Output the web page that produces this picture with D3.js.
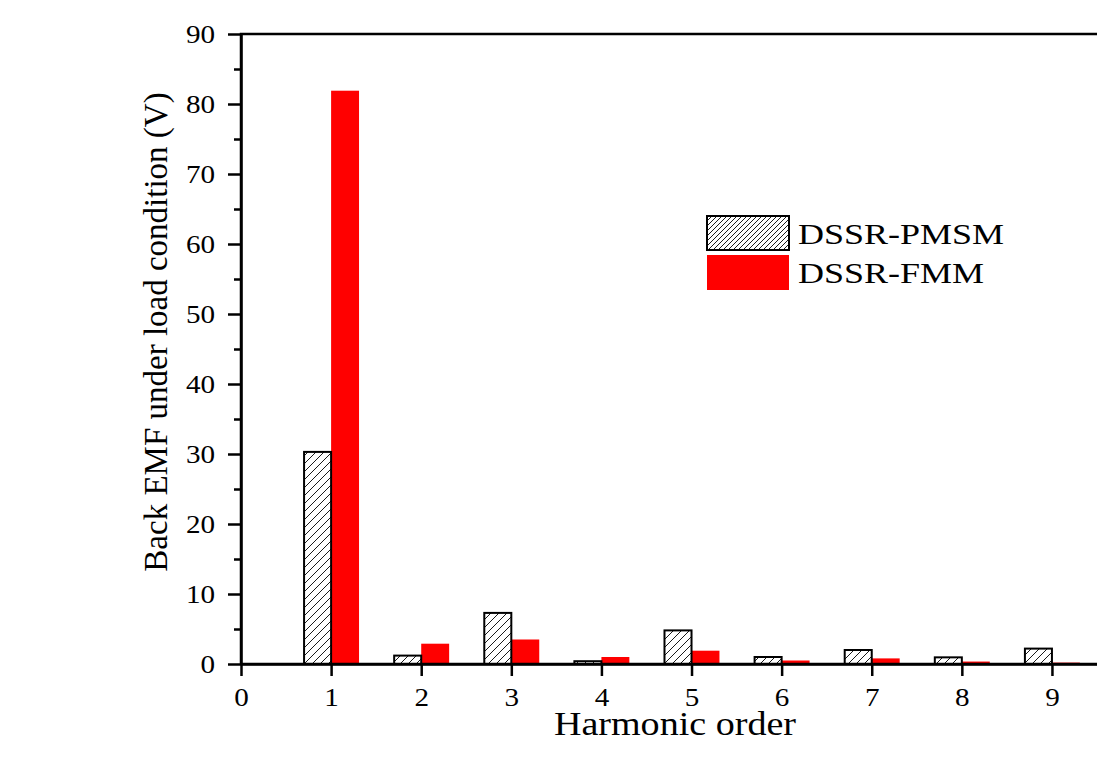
<!DOCTYPE html>
<html>
<head>
<meta charset="utf-8">
<script src="https://cdn.jsdelivr.net/npm/d3@7"></script>
<style>
  body { margin: 0; background: #fff; overflow: hidden; }
  text { font-family: "Liberation Serif", "Times New Roman", serif; fill: #000; }
</style>
</head>
<body>
<svg width="1097" height="784"></svg>
<script>
// harmonic order on the x axis
var harmonics = [1, 2, 3, 4, 5, 6, 7, 8, 9];
// back EMF (V)
var pmsm = [30.3, 1.2, 7.3, 0.4, 4.8, 1.0, 2.0, 0.95, 2.2];
var fmm  = [81.9, 2.9, 3.5, 1.0, 1.9, 0.5, 0.8, 0.35, 0.2];
var xTicks = [0, 1, 2, 3, 4, 5, 6, 7, 8, 9];
var yTicks = [0, 10, 20, 30, 40, 50, 60, 70, 80, 90];
var yMinor = [5, 15, 25, 35, 45, 55, 65, 75, 85];
var seriesNames = ["DSSR-PMSM", "DSSR-FMM"];

const svg = d3.select("svg");
const plotLeft = 241, plotRight = 1097, plotTop = 34, plotBottom = 664;
const stretch = 1.12;

const x = d3.scaleLinear().domain([0, 9.5]).range([plotLeft, plotRight]);
const y = d3.scaleLinear().domain([0, 90]).range([plotBottom, plotTop]);

var defs = svg.append("defs");
function hatch(id, gap) {
  var p = defs.append("pattern")
    .attr("id", id)
    .attr("patternUnits", "userSpaceOnUse")
    .attr("width", gap)
    .attr("height", gap);
  p.append("rect").attr("width", gap).attr("height", gap).attr("fill", "#fff");
  p.append("path")
    .attr("d", "M0," + gap + "L" + gap + ",0M-1,1L1,-1M" + (gap - 1) + "," + (gap + 1) + "L" + (gap + 1) + "," + (gap - 1))
    .attr("stroke", "#000")
    .attr("stroke-width", 0.9);
}
hatch("hatchBar", 8);
hatch("hatchLegend", 5);

var barW = 0.3;
var rows = harmonics.map((h, i) => ({ h: h, a: pmsm[i], b: fmm[i] }));

// red bars (right of tick)
svg.append("g").selectAll("rect")
    .data(rows)
  .enter().append("rect")
    .attr("x", d => x(d.h))
    .attr("y", d => y(d.b))
    .attr("width", d => x(d.h + barW + 0.01) - x(d.h))
    .attr("height", d => y(0) - y(d.b))
    .attr("fill", "#ff0000");

// hatched bars (left of tick)
svg.append("g").selectAll("rect")
    .data(rows)
  .enter().append("rect")
    .attr("x", d => x(d.h - barW))
    .attr("y", d => y(d.a))
    .attr("width", d => x(d.h) - x(d.h - barW))
    .attr("height", d => y(0) - y(d.a))
    .attr("fill", "url(#hatchBar)")
    .attr("stroke", "#000")
    .attr("stroke-width", 2);

// axes
svg.append("g")
  .attr("transform", "translate(" + plotLeft + ",0)")
  .call(d3.axisLeft(y).tickValues(yTicks).tickSize(13).tickPadding(13).tickSizeOuter(0));
svg.append("g")
  .attr("transform", "translate(" + plotLeft + ",0)")
  .call(d3.axisLeft(y).tickValues(yMinor).tickSize(7).tickFormat("").tickSizeOuter(0))
  .call(g => g.select(".domain").remove());
svg.append("g")
  .attr("transform", "translate(0," + plotBottom + ")")
  .call(d3.axisBottom(x).tickValues(xTicks).tickSize(12).tickPadding(11.5).tickSizeOuter(0));

svg.selectAll(".tick line").attr("stroke", "#000").attr("stroke-width", 2.5);
svg.selectAll(".domain").attr("stroke", "#000").attr("stroke-width", 2.5);
svg.selectAll(".tick text").style("font-size", "26px").attr("font-family", null);

// frame
svg.append("path")
  .attr("d", "M" + plotLeft + "," + plotBottom + "V" + plotTop + "H" + (plotRight + 2) + "V" + plotBottom + "H" + plotLeft)
  .attr("fill", "none")
  .attr("stroke", "#000")
  .attr("stroke-width", 2.5);

// axis titles
svg.append("text")
  .attr("class", "wide")
  .attr("x", (553 + 797) / 2)
  .attr("y", 735)
  .attr("text-anchor", "middle")
  .style("font-size", "34px")
  .text("Harmonic order");

svg.append("text")
  .attr("transform", "translate(167,332) rotate(-90)")
  .attr("text-anchor", "middle")
  .style("font-size", "33px")
  .text("Back EMF under load condition (V)");

// legend
var legend = svg.append("g").attr("transform", "translate(707,216)");
legend.append("rect")
  .attr("width", 82).attr("height", 34)
  .attr("fill", "url(#hatchLegend)")
  .attr("stroke", "#000")
  .attr("stroke-width", 2);
legend.append("rect")
  .attr("y", 39).attr("width", 82).attr("height", 35)
  .attr("fill", "#ff0000");
legend.selectAll("text.lg")
    .data(seriesNames)
  .enter().append("text")
    .attr("class", "lg")
    .attr("x", 91)
    .attr("y", (d, i) => 28 + i * 39)
    .style("font-size", "30px")
    .text(d => d);

// horizontal widening of the glyphs seen in the picture
svg.selectAll(".tick text, text.wide").each(function() {
  var len = this.getComputedTextLength();
  d3.select(this).attr("textLength", len * stretch).attr("lengthAdjust", "spacingAndGlyphs");
});
legend.selectAll("text.lg").each(function() {
  var len = this.getComputedTextLength();
  d3.select(this).attr("textLength", len * 1.2).attr("lengthAdjust", "spacingAndGlyphs");
});
</script>
</body>
</html>
